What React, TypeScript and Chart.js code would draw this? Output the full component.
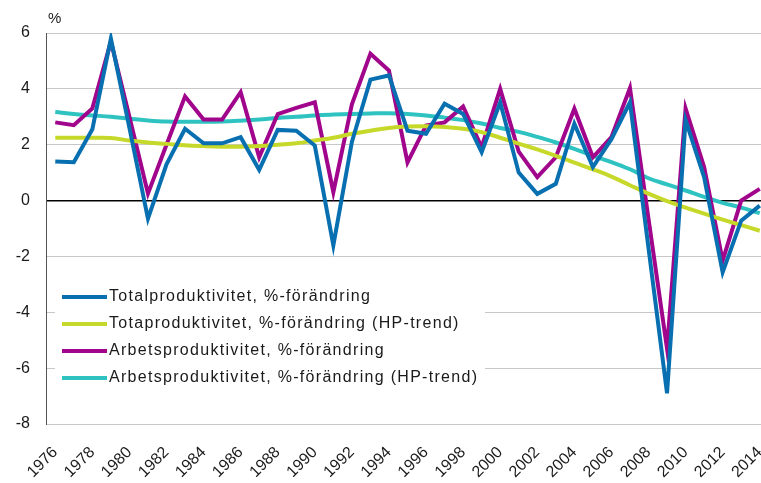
import React, { useEffect, useRef } from "react";
import { Chart, registerables } from "chart.js";

Chart.register(...registerables);

const years: string[] = [];
for (let y = 1976; y <= 2014; y++) years.push(String(y));

const totalProd = [1.4, 1.37, 2.55, 5.8, 2.6, -0.65, 1.3, 2.57, 2.05, 2.05, 2.27, 1.1, 2.53, 2.5, 1.97, -1.6, 2.1, 4.33, 4.48, 2.5, 2.39, 3.47, 3.1, 1.73, 3.52, 1.0, 0.24, 0.6, 2.75, 1.2, 2.2, 3.52, -1.7, -6.9, 2.88, 0.84, -2.57, -0.72, -0.18];
const totalTrend = [2.25, 2.25, 2.25, 2.24, 2.15, 2.08, 2.03, 1.98, 1.95, 1.93, 1.93, 1.95, 2.0, 2.05, 2.15, 2.25, 2.39, 2.5, 2.6, 2.65, 2.66, 2.63, 2.57, 2.45, 2.25, 2.04, 1.83, 1.6, 1.36, 1.12, 0.86, 0.55, 0.25, -0.02, -0.25, -0.47, -0.68, -0.88, -1.08];
const arbProd = [2.8, 2.7, 3.3, 5.7, 3.0, 0.25, 2.0, 3.73, 2.9, 2.9, 3.88, 1.55, 3.1, 3.32, 3.52, 0.3, 3.45, 5.26, 4.66, 1.37, 2.69, 2.8, 3.37, 1.91, 4.0, 1.75, 0.84, 1.55, 3.29, 1.55, 2.27, 4.03, -0.65, -5.3, 3.3, 1.2, -2.15, 0.0, 0.42];
const arbTrend = [3.17, 3.1, 3.05, 3.0, 2.93, 2.87, 2.83, 2.82, 2.82, 2.83, 2.86, 2.9, 2.96, 3.0, 3.05, 3.08, 3.1, 3.12, 3.13, 3.1, 3.05, 2.97, 2.88, 2.76, 2.6, 2.46, 2.28, 2.08, 1.85, 1.6, 1.38, 1.12, 0.8, 0.58, 0.36, 0.13, -0.08, -0.25, -0.45];

const seriesLabels = [
  "Totalproduktivitet, %-förändring",
  "Totaproduktivitet, %-förändring (HP-trend)",
  "Arbetsproduktivitet, %-förändring",
  "Arbetsproduktivitet, %-förändring (HP-trend)",
];
const seriesColors = ["#0870b0", "#c6d92a", "#a0058c", "#2ec3c0"];

const FONT = '"Liberation Sans", Arial, sans-serif';

const legendPlugin = {
  id: "customLegend",
  afterDraw(chart: any) {
    const ctx = chart.ctx;
    ctx.save();
    ctx.fillStyle = "#ffffff";
    ctx.fillRect(55, 283, 430, 108);
    const datasets = chart.data.datasets;
    datasets.forEach((ds: any, i: number) => {
      const y = 297 + i * 27;
      ctx.strokeStyle = ds.borderColor;
      ctx.lineWidth = 4;
      ctx.lineCap = "butt";
      ctx.beginPath();
      ctx.moveTo(62, y);
      ctx.lineTo(107, y);
      ctx.stroke();
      ctx.fillStyle = "#1a1a1a";
      ctx.font = `16px ${FONT}`;
      (ctx as any).letterSpacing = "1.3px";
      ctx.textAlign = "left";
      ctx.textBaseline = "middle";
      ctx.fillText(ds.label, 109, y);
    });
    (ctx as any).letterSpacing = "0px";
    ctx.font = `15px ${FONT}`;
    ctx.textAlign = "left";
    ctx.textBaseline = "middle";
    ctx.fillStyle = "#1a1a1a";
    ctx.fillText("%", 48, 19);
    ctx.restore();
  },
};

export default function App() {
  const ref = useRef<HTMLCanvasElement | null>(null);
  useEffect(() => {
    document.body.style.margin = "0";
    document.body.style.overflow = "hidden";
    if (!ref.current) return;
    const data = [totalProd, totalTrend, arbProd, arbTrend];
    const chart = new Chart(ref.current, {
      type: "line",
      data: {
        labels: years,
        datasets: data.map((d, i) => ({
          label: seriesLabels[i],
          data: d,
          borderColor: seriesColors[i],
          backgroundColor: seriesColors[i],
          borderWidth: 4,
          pointRadius: 0,
          tension: i % 2 === 1 ? 0.4 : 0,
          fill: false,
        })),
      },
      options: {
        responsive: false,
        animation: false,
        layout: { padding: { top: 33, right: 0, left: 0, bottom: 0 } },
        plugins: { legend: { display: false }, tooltip: { enabled: false } },
        scales: {
          x: {
            offset: true,
            grid: { display: false, drawTicks: false },
            border: { display: true, color: "#c8c8c8" },
            ticks: {
              autoSkip: false,
              maxRotation: 45,
              minRotation: 45,
              padding: 19,
              color: "#1a1a1a",
              font: { family: FONT, size: 16 },
              callback: (_v: any, i: number) => (i % 2 === 0 ? years[i] : ""),
            },
            afterFit: (s: any) => {
              s.height = 59;
              s.paddingRight = 0;
              s.paddingLeft = 0;
            },
          },
          y: {
            min: -8,
            max: 6,
            ticks: {
              stepSize: 2,
              padding: 16,
              color: "#1a1a1a",
              font: { family: FONT, size: 16 },
            },
            grid: {
              drawTicks: false,
              color: (c: any) => (c.tick && c.tick.value === 0 ? "#000000" : "#c8c8c8"),
              lineWidth: (c: any) => (c.tick && c.tick.value === 0 ? 1.5 : 1),
            },
            border: { display: true, color: "#555555", width: 1 },
            afterFit: (s: any) => {
              s.width = 46;
            },
          },
        },
      },
      plugins: [legendPlugin],
    });
    return () => chart.destroy();
  }, []);
  return <canvas ref={ref} width={769} height={483} style={{ display: "block" }} />;
}
